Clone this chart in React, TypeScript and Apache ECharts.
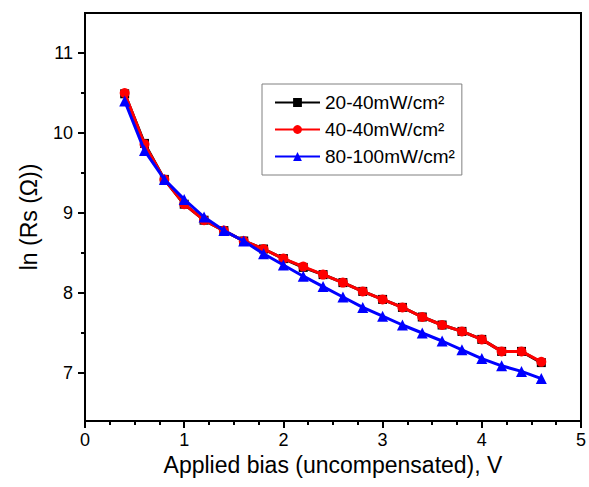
import React, { useEffect, useRef } from "react";
import * as echarts from "echarts";

const biasV = [0.4, 0.6, 0.8, 1.0, 1.2, 1.4, 1.6, 1.8, 2.0, 2.2, 2.4, 2.6, 2.8, 3.0, 3.2, 3.4, 3.6, 3.8, 4.0, 4.2, 4.4, 4.6];
const s20_40 = [10.49, 9.87, 9.42, 9.11, 8.91, 8.78, 8.65, 8.55, 8.43, 8.32, 8.23, 8.13, 8.02, 7.92, 7.82, 7.70, 7.60, 7.52, 7.42, 7.27, 7.27, 7.13];
const s40_40 = [10.50, 9.86, 9.42, 9.11, 8.91, 8.78, 8.65, 8.55, 8.43, 8.33, 8.23, 8.13, 8.02, 7.92, 7.82, 7.70, 7.60, 7.52, 7.42, 7.27, 7.27, 7.14];
const s80_100 = [10.40, 9.78, 9.42, 9.17, 8.95, 8.78, 8.65, 8.49, 8.35, 8.21, 8.08, 7.95, 7.82, 7.71, 7.60, 7.50, 7.40, 7.29, 7.18, 7.09, 7.02, 6.93];
const seriesNames = ["20-40mW/cm²", "40-40mW/cm²", "80-100mW/cm²"];
const yMajorTicks = [7, 8, 9, 10, 11];
const yMinorTicks = [7.5, 8.5, 9.5, 10.5];

const FONT = 'Arial, "Liberation Sans", sans-serif';

export default function App() {
  const ref = useRef<HTMLDivElement>(null);
  useEffect(() => {
    document.body.style.margin = "0";
    const chart = echarts.init(ref.current!, null, { renderer: "svg" });
    const pairs = (ys: number[]) => biasV.map((x, i) => [x, ys[i]]);
    chart.setOption({
      animation: false,
      backgroundColor: "#fff",
      textStyle: { fontFamily: FONT },
      grid: { left: 85, top: 13, right: 8, bottom: 66, show: true, borderColor: "#000", borderWidth: 2, backgroundColor: "transparent" },
      legend: {
        orient: "vertical",
        left: 262,
        top: 84,
        padding: [9, 7, 9, 12],
        itemGap: 8,
        itemWidth: 45,
        itemHeight: 11,
        borderColor: "#808080",
        borderWidth: 1,
        textStyle: { fontSize: 19, color: "#000", fontFamily: FONT },
        data: seriesNames,
      },
      xAxis: {
        type: "value",
        min: 0,
        max: 5,
        interval: 1,
        name: "Applied bias (uncompensated), V",
        nameLocation: "middle",
        nameGap: 32,
        nameTextStyle: { fontSize: 23, color: "#000", fontFamily: FONT },
        axisLine: { show: true, lineStyle: { color: "#000", width: 2 } },
        axisTick: { show: true, length: 7, lineStyle: { color: "#000", width: 2 } },
        minorTick: { show: true, splitNumber: 4, length: 4, lineStyle: { color: "#000", width: 2 } },
        axisLabel: { fontSize: 18, color: "#000", margin: 10, fontFamily: FONT },
        splitLine: { show: false },
      },
      yAxis: [
        {
          type: "value",
          min: 6.4,
          max: 11.5,
          name: "ln (Rs (Ω))",
          nameLocation: "middle",
          nameGap: 45,
          nameTextStyle: { fontSize: 23, color: "#000", fontFamily: FONT },
          axisLine: { show: true, lineStyle: { color: "#000", width: 2 } },
          axisTick: { show: true, length: 7, customValues: yMajorTicks, lineStyle: { color: "#000", width: 2 } },
          axisLabel: { fontSize: 18, color: "#000", margin: 12, customValues: yMajorTicks, fontFamily: FONT },
          splitLine: { show: false },
        },
        {
          type: "value",
          min: 6.4,
          max: 11.5,
          position: "left",
          axisLine: { show: false },
          axisTick: { show: true, length: 4, customValues: yMinorTicks, lineStyle: { color: "#000", width: 2 } },
          axisLabel: { show: false },
          splitLine: { show: false },
        },
      ],
      series: [
        {
          name: seriesNames[0],
          type: "line",
          data: pairs(s20_40),
          symbol: "rect",
          symbolSize: 9,
          itemStyle: { color: "#000" },
          lineStyle: { color: "#000", width: 3 },
          z: 2,
        },
        {
          name: seriesNames[1],
          type: "line",
          data: pairs(s40_40),
          symbol: "circle",
          symbolSize: 10,
          itemStyle: { color: "#ff0000" },
          lineStyle: { color: "#ff0000", width: 3 },
          z: 3,
        },
        {
          name: seriesNames[2],
          type: "line",
          data: pairs(s80_100),
          symbol: "triangle",
          symbolSize: 11,
          itemStyle: { color: "#0000ff" },
          lineStyle: { color: "#0000ff", width: 3 },
          z: 4,
        },
      ],
    });
    return () => chart.dispose();
  }, []);
  return <div ref={ref} style={{ width: 589, height: 487 }} />;
}
